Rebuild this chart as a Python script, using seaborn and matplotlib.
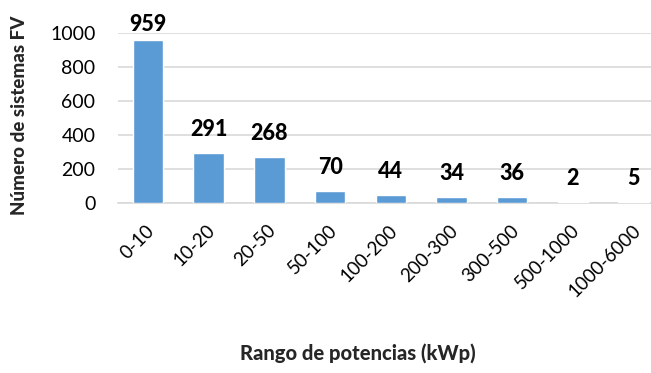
import matplotlib
matplotlib.use("Agg")
import matplotlib.pyplot as plt
import matplotlib.transforms as mtransforms
import seaborn as sns
import pandas as pd

categories = ["0-10", "10-20", "20-50", "50-100", "100-200", "200-300", "300-500", "500-1000", "1000-6000"]
values = [959, 291, 268, 70, 44, 34, 36, 2, 5]
y_ticks = [0, 200, 400, 600, 800, 1000]

sns.set_theme(style="white")
plt.rcParams['font.family'] = ['Lato', 'DejaVu Sans']

W, H = 651, 373
fig = plt.figure(figsize=(W / 100, H / 100), dpi=100)
left, right, bottom, top = 117.6, 664.0, 202.7, 32.7
ax = fig.add_axes([left / W, (H - bottom) / H, (right - left) / W, (bottom - top) / H])

df = pd.DataFrame({"cat": categories, "val": values})
sns.barplot(data=df, x="cat", y="val", color="#5b9bd5", saturation=1, width=0.5, ax=ax, zorder=3)

ax.set_ylim(0, 1000)
ax.set_yticks(y_ticks)
ax.yaxis.grid(True, color="#d9d9d9", linewidth=1.2, zorder=0)
ax.set_axisbelow(True)
for s in ["top", "right", "left"]:
    ax.spines[s].set_visible(False)
ax.spines["bottom"].set_color("#d9d9d9")
ax.spines["bottom"].set_linewidth(1.2)
ax.tick_params(axis="both", length=0)
ax.tick_params(axis="y", labelsize=14, pad=16, labelcolor="black")
ax.tick_params(axis="x", labelsize=13.5, pad=18, labelcolor="black")
shift = mtransforms.ScaledTranslation(4 / 100, 0, fig.dpi_scale_trans)
for lbl in ax.get_xticklabels():
    lbl.set_rotation(45)
    lbl.set_ha("right")
    lbl.set_va("center")
    lbl.set_rotation_mode("anchor")
    lbl.set_transform(lbl.get_transform() + shift)
ax.set_xlabel("")
ax.set_ylabel("")

px = 1000 / (bottom - top)
for i, v in enumerate(values):
    y = min(v + 17 * px, 1000 + 2 * px)
    ax.text(i, y, str(v), ha="center", va="baseline", fontsize=15.5, fontweight="black", color="black", clip_on=False)

fig.text(358 / W, 1 - 353 / H, "Rango de potencias (kWp)", ha="center", va="center", fontsize=14.5, fontweight="black")
fig.text(20 / W, 1 - 115 / H, "Número de sistemas FV", ha="center", va="center", rotation=90, fontsize=13.5, fontweight="black")

fig.savefig("out.png", dpi=100, facecolor="white")
